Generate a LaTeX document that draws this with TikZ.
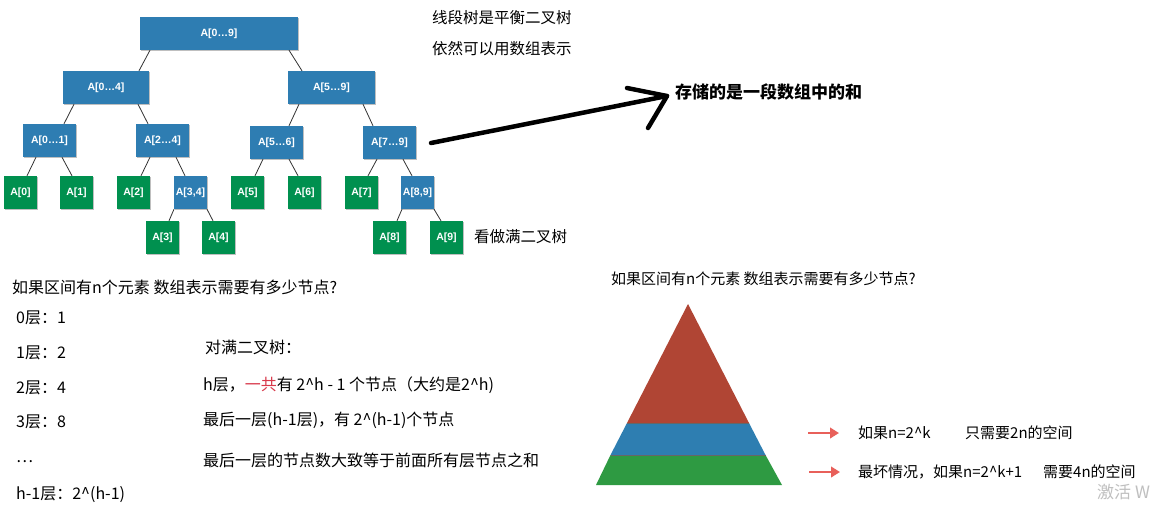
\documentclass[tikz,border=0pt]{standalone}
\usepackage{fontspec}
\setmainfont{Noto Sans CJK SC}
\newfontfamily\labfont[BoldFont=Liberation Sans Bold]{Liberation Sans}
\usetikzlibrary{arrows.meta,shadows}
\definecolor{nblue}{HTML}{2E7DB2}
\definecolor{ngreen}{HTML}{00904F}
\definecolor{tred}{HTML}{B04534}
\definecolor{tblue}{HTML}{2E7EB1}
\definecolor{tgreen}{HTML}{2E9A42}
\definecolor{arrred}{HTML}{E8605A}
\definecolor{hlred}{HTML}{D8394B}
\newcommand{\crt}{\textasciicircum}
\begin{document}
\begin{tikzpicture}[x=1pt,y=-1pt,
  box/.style={rectangle, inner sep=0pt, minimum height=33pt, text=white,
    font=\labfont\bfseries\fontsize{10.5}{12}\selectfont,
    drop shadow={shadow xshift=1pt, shadow yshift=-1pt, opacity=0.25, fill=black}},
  bluebox/.style={box, fill=nblue, minimum width=#1},
  greenbox/.style={box, fill=ngreen, minimum width=33pt},
  edge/.style={draw=black!80, line width=0.8pt},
  txt/.style={anchor=west, inner sep=0pt, font=\fontsize{16}{19}\selectfont},
  stxt/.style={txt, font=\fontsize{15}{18}\selectfont},
  bigarrow/.style={line width=4.5pt, line cap=round, line join=round},
  redarrow/.style={draw=arrred, line width=2.8pt, -{Triangle[length=9pt,width=10.5pt]}}
]
\useasboundingbox (0,0) rectangle (1150,506);
\fill[white] (0,0) rectangle (1150,506);

% tree
\node[bluebox=158pt] (r)   at (219,33.5)  {A[0…9]};
\node[bluebox=86pt]  (a04) at (106,87.5)  {A[0…4]};
\node[bluebox=87pt]  (a59) at (331.5,87.5) {A[5…9]};
\node[bluebox=53pt]  (a01) at (49.5,140.5) {A[0…1]};
\node[bluebox=53pt]  (a24) at (162.5,140.5) {A[2…4]};
\node[bluebox=53pt]  (a56) at (276.5,142.5) {A[5…6]};
\node[bluebox=53pt]  (a79) at (389.5,142.5) {A[7…9]};
\node[greenbox] (l0) at (20.5,192.5) {A[0]};
\node[greenbox] (l1) at (76.5,192.5) {A[1]};
\node[greenbox] (l2) at (133.5,192.5) {A[2]};
\node[bluebox=33pt] (a34) at (190.5,192.5) {A[3,4]};
\node[greenbox] (l5) at (247.5,192.5) {A[5]};
\node[greenbox] (l6) at (304.5,192.5) {A[6]};
\node[greenbox] (l7) at (361.5,192.5) {A[7]};
\node[bluebox=33pt] (a89) at (417.5,192.5) {A[8,9]};
\node[greenbox] (l3) at (162.5,237.5) {A[3]};
\node[greenbox] (l4) at (218.5,237.5) {A[4]};
\node[greenbox] (l8) at (389.5,237.5) {A[8]};
\node[greenbox] (l9) at (446.5,237.5) {A[9]};

\newcommand{\tedge}[4]{\draw[edge] ([xshift=#2pt]#1.south) -- ([xshift=#4pt]#3.north);}
\tedge{r}{-69}{a04}{33}
\tedge{r}{70}{a59}{-29.5}
\tedge{a04}{-32}{a01}{14.5}
\tedge{a04}{32}{a24}{-14.5}
\tedge{a59}{-32.5}{a56}{12.5}
\tedge{a59}{31.5}{a79}{-16.5}
\tedge{a01}{-13.5}{l0}{6.5}
\tedge{a01}{12.5}{l1}{-4.5}
\tedge{a24}{-12.5}{l2}{7.5}
\tedge{a24}{13.5}{a34}{-5.5}
\tedge{a56}{-13.5}{l5}{7.5}
\tedge{a56}{12.5}{l6}{-6.5}
\tedge{a79}{-12.5}{l7}{6.5}
\tedge{a79}{13.5}{a89}{-5.5}
\tedge{a34}{-16.5}{l3}{6.5}
\tedge{a34}{16.5}{l4}{-5.5}
\tedge{a89}{-15.5}{l8}{7.5}
\tedge{a89}{16.5}{l9}{-5.5}

% top texts
\node[txt, font=\fontsize{15.5}{18}\selectfont] (t1) at (432,18) {线段树是平衡二叉树};
\node[txt, font=\fontsize{15.5}{18}\selectfont] (t2) at (432,49) {依然可以用数组表示};
\node[txt, font=\bfseries\fontsize{17}{20}\selectfont] (sum) at (675,92) {存储的是一段数组中的和};
\node[txt, font=\fontsize{15.5}{18}\selectfont] (full) at (474,237) {看做满二叉树};

% big arrow
\coordinate (as) at (431,143);
\coordinate (tip) at (667,96);
\coordinate (arm1) at (627,88);
\coordinate (arm2) at (648,128);
\draw[bigarrow] (as) -- (tip);
\draw[bigarrow] (arm1) -- (tip) -- (arm2);

% left column
\node[txt] (q1) at (12,287) {如果区间有n个元素 数组表示需要有多少节点?};
\node[txt] (h0) at (16,318) {0层：1};
\node[txt] (h1) at (16,353) {1层：2};
\node[txt] (h2) at (16,388) {2层：4};
\node[txt] (h3) at (16,422) {3层：8};
\node[txt] (hd) at (16,462) {…};
\node[txt] (hh) at (16,495) {h-1层：2\crt(h-1)};

% middle column
\node[txt] (m0) at (205,347) {对满二叉树：};
\node[txt] (m1) at (203,385) {h层，\textcolor{hlred}{一共}有 2\crt h - 1 个节点（大约是2\crt h)};
\node[txt] (m2) at (203,420) {最后一层(h-1层)，有 2\crt(h-1)个节点};
\node[txt] (m3) at (203,460) {最后一层的节点数大致等于前面所有层节点之和};

% right side
\node[stxt] (q2) at (611,279) {如果区间有n个元素 数组表示需要有多少节点?};
\coordinate (ap) at (688,304);
\coordinate (bl) at (596,485);
\coordinate (br) at (782,485);
\coordinate (r1l) at (627,423);
\coordinate (r1r) at (749,423);
\coordinate (r2l) at (610.5,455);
\coordinate (r2r) at (765.5,455);
\fill[tred] (ap) -- (r1r) -- (r1l) -- cycle;
\fill[tblue] (r1l) -- (r1r) -- (r2r) -- (r2l) -- cycle;
\fill[tgreen] (r2l) -- (r2r) -- (br) -- (bl) -- cycle;
\draw[black!60, line width=0.6pt] (r1l) -- (r1r) (r2l) -- (r2r);

\coordinate (ra1s) at (808,433);
\coordinate (ra1e) at (839,433);
\coordinate (ra2s) at (809,472);
\coordinate (ra2e) at (840,472);
\draw[redarrow] (ra1s) -- (ra1e);
\draw[redarrow] (ra2s) -- (ra2e);
\node[stxt] (c1) at (858,433) {如果n=2\crt k};
\node[stxt] (c1b) at (965,433) {只需要2n的空间};
\node[stxt] (c2) at (858,472) {最坏情况，如果n=2\crt k+1};
\node[stxt] (c2b) at (1043,472) {需要4n的空间};
\node[txt, text=black!25, font=\fontsize{17}{20}\selectfont] (wm) at (1097,492) {激活 W};
\end{tikzpicture}
\end{document}
